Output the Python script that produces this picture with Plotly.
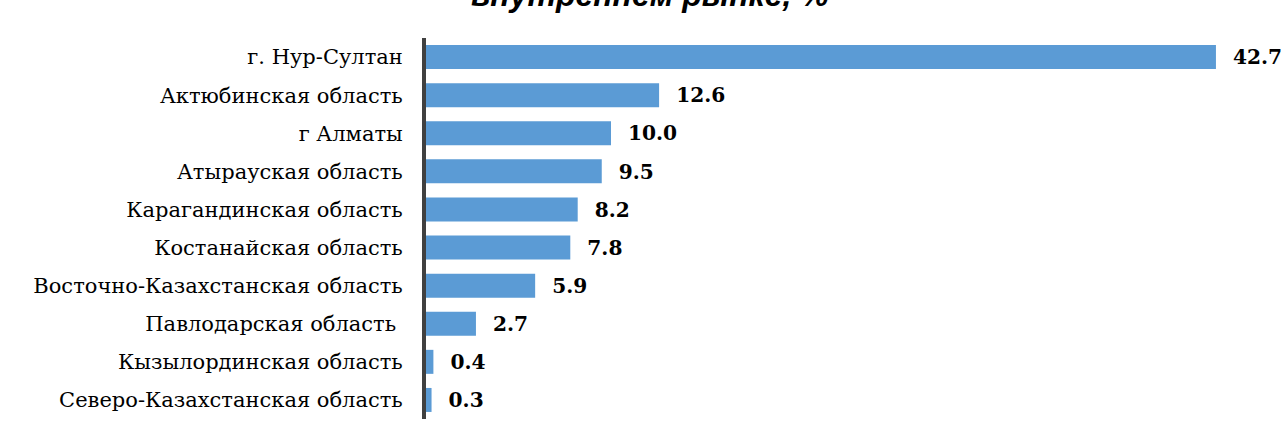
import plotly.graph_objects as go

categories = [
    "г. Нур-Султан",
    "Актюбинская область",
    "г Алматы",
    "Атырауская область",
    "Карагандинская область",
    "Костанайская область",
    "Восточно-Казахстанская область",
    "Павлодарская область ",
    "Кызылординская область",
    "Северо-Казахстанская область",
]
values = [42.7, 12.6, 10.0, 9.5, 8.2, 7.8, 5.9, 2.7, 0.4, 0.3]
title_text = "внутреннем рынке, %"

fig = go.Figure()
fig.add_trace(go.Bar(
    y=categories,
    x=values,
    orientation="h",
    marker=dict(color="#5B9BD5", line=dict(width=0)),
    width=0.63,
    text=[f"{v:.1f}" for v in values],
    texttemplate="\u00a0\u00a0%{text}",
    textposition="outside",
    cliponaxis=False,
    textfont=dict(family="DejaVu Serif", size=21, color="black", weight="bold"),
))

fig.update_layout(
    width=1282, height=439,
    margin=dict(l=426, r=4, t=38, b=20),
    paper_bgcolor="white", plot_bgcolor="white",
    showlegend=False,
    annotations=[dict(
        text=f"<b><i>{title_text}</i></b>",
        xref="paper", yref="paper", x=(650 - 426) / (1282 - 426 - 4), y=1.0, yshift=23,
        xanchor="center", yanchor="bottom", showarrow=False,
        font=dict(family="Liberation Sans", size=32, color="black"),
    )],
)
fig.update_xaxes(range=[0, (1282 - 426 - 4) / 18.5], visible=False, showgrid=False, zeroline=False)
fig.update_yaxes(
    autorange="reversed",
    showline=True, linecolor="#404040", linewidth=4,
    ticks="", ticklabelstandoff=15,
    tickfont=dict(family="DejaVu Serif", size=21, color="black"),
    showgrid=False,
)

fig.write_html("out.html", config={"displayModeBar": False},
               post_script="document.body.style.margin='0';")
